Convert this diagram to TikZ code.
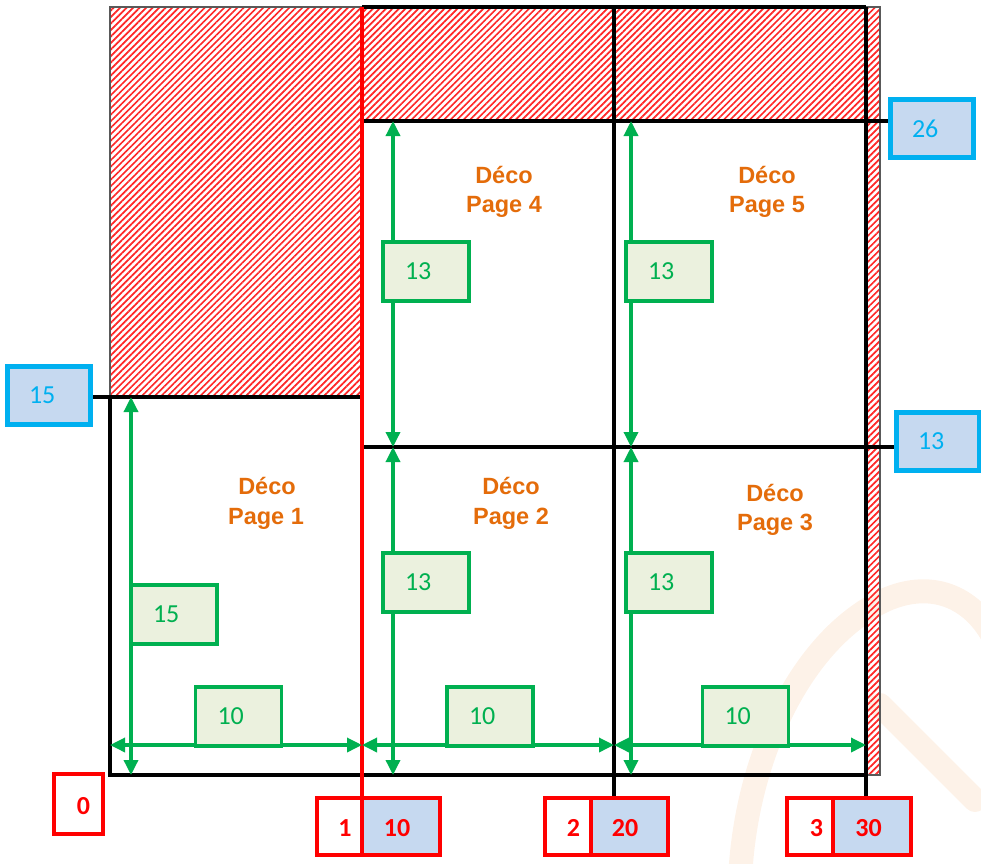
\documentclass[tikz,border=0pt]{standalone}
\usepackage{fontspec}
\setmainfont{Carlito}
\newfontfamily\decofont{Liberation Sans}
\usetikzlibrary{patterns.meta,arrows.meta}
\definecolor{deco}{RGB}{228,108,10}
\definecolor{gline}{RGB}{0,176,80}
\definecolor{gfill}{RGB}{235,241,222}
\definecolor{bline}{RGB}{0,176,240}
\definecolor{bfill}{RGB}{198,217,240}
\definecolor{wmark}{RGB}{253,242,232}
\tikzset{
  hatch/.style={pattern={Lines[angle=45,distance=4.6pt,line width=1.7pt]},pattern color=red!85},
  blk/.style={line width=3.6pt,black},
  redline/.style={line width=3.4pt,red},
  garrow/.style={line width=3.4pt,gline,{Triangle[length=15pt,width=14pt]}-{Triangle[length=15pt,width=14pt]}},
  gbox/.style={draw=gline,fill=gfill,line width=3.6pt,minimum height=59pt,inner xsep=22pt,inner ysep=0pt,text width=42pt,align=left,text=gline,font=\fontsize{26}{28}\selectfont},
  bbox/.style={draw=bline,fill=bfill,line width=5pt,minimum height=58pt,inner xsep=22pt,inner ysep=0pt,text width=39pt,align=left,text=bline,font=\fontsize{26}{28}\selectfont},
  rcell/.style={draw=red,line width=4.5pt,minimum height=57pt,inner sep=0pt},
  rtext/.style={text=red,font=\bfseries\fontsize{26}{28}\selectfont,inner sep=0pt},
  decot/.style={text=deco,font=\decofont\bfseries\fontsize{23.5}{26}\selectfont,anchor=base,inner sep=0pt},
  wm/.style={line width=24pt,wmark,line cap=round}
}
\begin{document}
\begin{tikzpicture}[x=1pt,y=-1pt]
\useasboundingbox (0,0) rectangle (981,863);
% faint watermark
\draw[wm] (740,880) .. controls (745,760) and (800,640) .. (885,600) .. controls (935,578) and (975,600) .. (995,640);
\draw[wm] (880,705) -- (975,800);
% hatched zones
\fill[hatch] (110,7) rectangle (362,397);
\fill[hatch] (362,7) rectangle (880,121);
\fill[hatch] (866,121) rectangle (880,775);
\draw[gray!70!black,line width=1.2pt] (362,397) -- (110,397) -- (110,7) -- (880,7) -- (880,775) -- (866,775);
% coordinates
\coordinate (tl) at (362,7);
\coordinate (tr) at (866,7);
\coordinate (m1t) at (614,7);
\coordinate (m1b) at (614,797);
\coordinate (m2b) at (866,797);
\coordinate (rt) at (362,7);
\coordinate (rb) at (362,797);
\coordinate (h1a) at (362,121);
\coordinate (h1b) at (890,121);
\coordinate (h2a) at (362,447);
\coordinate (h2b) at (897,447);
\coordinate (h3a) at (92,397);
\coordinate (h3b) at (362,397);
\coordinate (bl) at (110,775);
\coordinate (br) at (866,775);
\coordinate (lt) at (110,397);
% black grid
\draw[blk] (tl) -- (tr);
\draw[blk] (m1t) -- (m1b);
\draw[blk] (tr) -- (m2b);
\draw[blk] (h1a) -- (h1b);
\draw[blk] (h2a) -- (h2b);
\draw[blk] (h3a) -- (h3b);
\draw[blk] (lt) -- (bl) -- (br);
\draw[redline] (rt) -- (rb);
% green dimension arrows
\coordinate (a1t) at (131,397); \coordinate (a1b) at (131,775);
\coordinate (a2t) at (393,447); \coordinate (a2b) at (393,775);
\coordinate (a3t) at (631,447); \coordinate (a3b) at (631,775);
\coordinate (a4t) at (393,121); \coordinate (a4b) at (393,447);
\coordinate (a5t) at (631,121); \coordinate (a5b) at (631,447);
\coordinate (w1l) at (110,745); \coordinate (w1r) at (362,745);
\coordinate (w2l) at (362,745); \coordinate (w2r) at (614,745);
\coordinate (w3l) at (614,745); \coordinate (w3r) at (866,745);
\draw[garrow] (a1t) -- (a1b);
\draw[garrow] (a2t) -- (a2b);
\draw[garrow] (a3t) -- (a3b);
\draw[garrow] (a4t) -- (a4b);
\draw[garrow] (a5t) -- (a5b);
\draw[garrow] (w1l) -- (w1r);
\draw[garrow] (w2l) -- (w2r);
\draw[garrow] (w3l) -- (w3r);
% green boxes
\node[gbox] (g1) at (174,614.5) {15};
\node[gbox] (g2) at (426,582.5) {13};
\node[gbox] (g3) at (669,582.5) {13};
\node[gbox] (g4) at (426,271.5) {13};
\node[gbox] (g5) at (669,271.5) {13};
\node[gbox] (g6) at (238.5,716.5) {10};
\node[gbox] (g7) at (490,716.5) {10};
\node[gbox] (g8) at (745.5,716.5) {10};
% deco labels
\node[decot] (d1a) at (267,494) {Déco};
\node[decot] (d1b) at (266,524) {Page 1};
\node[decot] (d2a) at (511,494) {Déco};
\node[decot] (d2b) at (511,524) {Page 2};
\node[decot] (d3a) at (775,501) {Déco};
\node[decot] (d3b) at (775,530) {Page 3};
\node[decot] (d4a) at (504,183) {Déco};
\node[decot] (d4b) at (504,212) {Page 4};
\node[decot] (d5a) at (767,183) {Déco};
\node[decot] (d5b) at (767,212) {Page 5};
% blue boxes
\node[bbox] (b26) at (931.5,128.5) {26};
\node[bbox] (b13) at (937.5,441) {13};
\node[bbox] (b15) at (48.5,395.5) {15};
% red boxes
\node[rcell,minimum width=49pt,minimum height=60pt] (r0) at (78.5,804) {};
\node[rtext] (t0) at (83.5,806) {0};
\node[rcell,fill=white,minimum width=45pt] (r1) at (339.5,826.5) {};
\node[rcell,fill=bfill,minimum width=78pt] (r10) at (401,826.5) {};
\node[rtext] (t1) at (345,828) {1};
\node[rtext] (t10) at (397,828) {10};
\node[rcell,fill=white,minimum width=46pt] (r2) at (568,826.5) {};
\node[rcell,fill=bfill,minimum width=77pt] (r20) at (629.5,826.5) {};
\node[rtext] (t2) at (573.5,828) {2};
\node[rtext] (t20) at (625,828) {20};
\node[rcell,fill=white,minimum width=46pt] (r3) at (810,826.5) {};
\node[rcell,fill=bfill,minimum width=78pt] (r30) at (872,826.5) {};
\node[rtext] (t3) at (816.5,828) {3};
\node[rtext] (t30) at (868.5,828) {30};
\end{tikzpicture}
\end{document}
